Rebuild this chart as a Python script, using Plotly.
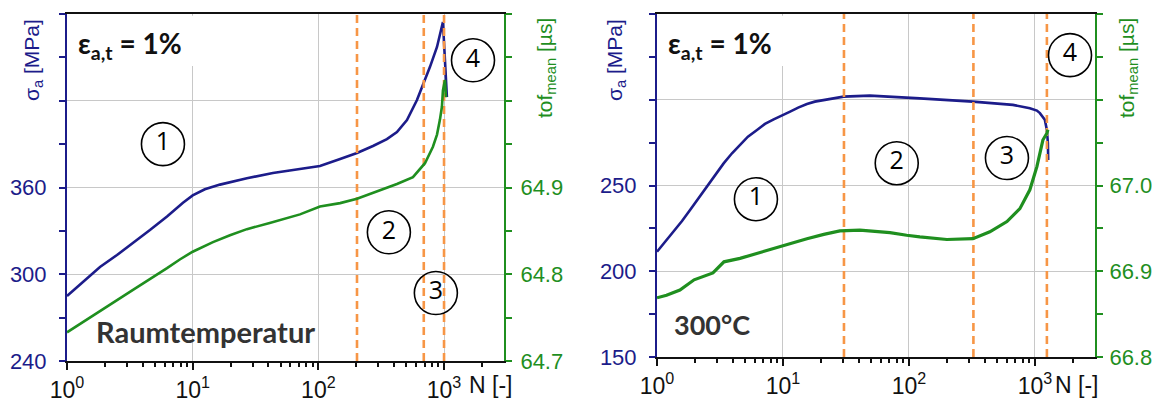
import math
import plotly.graph_objects as go

# browser page has an 8 px body margin -> figure is drawn 8 px in from the top-left corner
VIEW_W, VIEW_H, OFF = 1163, 407, 8
W, H = VIEW_W - OFF, VIEW_H - OFF

# ---------------- data ----------------
# Room temperature panel
N_rt_sigma = [1, 1.34, 1.83, 2.5, 3.35, 4.57, 6.25, 8.37, 10, 12.5, 16.5, 27, 43.5, 71.4, 103, 149, 203, 272, 351,
              422, 507, 609, 679, 772, 879, 962, 980, 1054]
sigma_rt = [285, 294.6, 305, 313.3, 321.6, 330.6, 340, 349.5, 354.5, 358.8, 362, 366.4, 370, 372.8, 374.9, 379.7,
            383.9, 388.7, 393.5, 398.4, 406.7, 420.5, 430.9, 443.3, 457.2, 470.3, 474.5, 422.6]

N_rt_tof = [1, 1.83, 3.35, 6.25, 7.9, 10, 14.5, 19.8, 27, 41, 71.4, 103, 149, 203, 309, 422, 566, 705, 816, 879,
            927, 962, 980, 1017, 1036]
tof_rt = [64.733, 64.758, 64.782, 64.807, 64.817, 64.826, 64.837, 64.845, 64.852, 64.859, 64.869, 64.878, 64.882,
          64.887, 64.897, 64.904, 64.912, 64.928, 64.947, 64.961, 64.978, 64.993, 65.012, 65.024, 65.004]

rt_stage_bounds = [203, 690, 1000]
rt_circle_N = [5.8, 364, 861, 1700]
rt_circle_sigma = [390, 329, 287, 448]

# 300 °C panel
N_ht_sigma = [1, 1.164, 1.357, 1.58, 1.83, 2.13, 2.49, 2.89, 3.38, 3.94, 4.56, 5.27, 6.22, 7.2, 8.44, 9.82, 11.4,
              13.2, 15.5, 17.9, 21.0, 30.3, 49, 96, 122, 322, 669, 912, 1037, 1096, 1157, 1199, 1245, 1268, 1275]
sigma_ht = [211.4, 217.2, 223.1, 229.3, 235.7, 242.5, 249.3, 256.1, 262.9, 268.8, 273.6, 278.5, 282.4, 285.9,
            288.6, 291.1, 293.1, 295.4, 297.5, 298.9, 299.8, 301.8, 302.4, 301.4, 300.8, 298.9, 297.0, 295.1,
            293.7, 292.2, 290.2, 288.3, 282.4, 274.8, 264.9]

N_ht_tof = [1, 1.19, 1.52, 1.97, 2.78, 3.4, 4.56, 6.22, 8.48, 11.4, 15.5, 21.1, 28.3, 40.8, 70.7, 96, 122, 200,
            322, 439, 600, 760, 912, 1037, 1157, 1245, 1268]
tof_ht = [66.869, 66.872, 66.878, 66.890, 66.898, 66.911, 66.915, 66.921, 66.927, 66.933, 66.938, 66.943, 66.947,
          66.948, 66.945, 66.942, 66.940, 66.937, 66.938, 66.946, 66.958, 66.973, 66.995, 67.022, 67.053, 67.061,
          67.065]

ht_stage_bounds = [30.5, 325, 1245]
ht_circle_N = [6.1, 80, 600, 1900]
ht_circle_sigma = [242, 263, 266, 326]

circle_labels = ["1", "2", "3", "4"]

x_ticks = [1, 10, 100, 1000]
x_ticktext = ["10<sup>0</sup>", "10<sup>1</sup>", "10<sup>2</sup>", "10<sup>3</sup>"]
x_minor = [m * d for d in (1, 10, 100, 1000) for m in range(2, 10) if m * d <= 2000]
x_max = 3000

rt_sigma_ticks = [240, 300, 360, 420, 480]
rt_sigma_text = ["240", "300", "360", "", ""]
rt_tof_ticks = [64.7, 64.8, 64.9, 65.0, 65.1]
rt_tof_text = ["64.7", "64.8", "64.9", "", ""]
ht_sigma_ticks = [150, 200, 250, 300, 350]
ht_sigma_text = ["150", "200", "250", "", ""]
ht_tof_ticks = [66.8, 66.9, 67.0, 67.1, 67.2]
ht_tof_text = ["66.8", "66.9", "67.0", "", ""]

# ---------------- style ----------------
NAVY = "#1c1c8a"
GREEN = "#1f8f1f"
ORANGE = "#F79646"
GRID = "#c8c8c8"
TICKFONT = "Liberation Sans, Arial, sans-serif"
BOLDFONT = "Lato, Open Sans, sans-serif"

def px_x(p):
    return (p - OFF) / W

def px_y(p):
    return 1 - (p - OFF) / H

fig = go.Figure()

# curves
fig.add_trace(go.Scatter(x=N_rt_sigma, y=sigma_rt, mode="lines", line=dict(color=NAVY, width=2.6),
                         xaxis="x", yaxis="y", showlegend=False))
fig.add_trace(go.Scatter(x=N_rt_tof, y=tof_rt, mode="lines", line=dict(color=GREEN, width=2.6),
                         xaxis="x", yaxis="y2", showlegend=False))
fig.add_trace(go.Scatter(x=N_ht_sigma, y=sigma_ht, mode="lines", line=dict(color=NAVY, width=2.6),
                         xaxis="x2", yaxis="y3", showlegend=False))
fig.add_trace(go.Scatter(x=N_ht_tof, y=tof_ht, mode="lines", line=dict(color=GREEN, width=3.2),
                         xaxis="x2", yaxis="y4", showlegend=False))

# stage boundaries
for v in rt_stage_bounds:
    fig.add_trace(go.Scatter(x=[v, v], y=[rt_sigma_ticks[0], rt_sigma_ticks[-1]], mode="lines",
                             line=dict(color=ORANGE, width=2.6, dash="8px,5px"),
                             xaxis="x", yaxis="y", showlegend=False))
for v in ht_stage_bounds:
    fig.add_trace(go.Scatter(x=[v, v], y=[ht_sigma_ticks[0], ht_sigma_ticks[-1]], mode="lines",
                             line=dict(color=ORANGE, width=2.6, dash="8px,5px"),
                             xaxis="x2", yaxis="y3", showlegend=False))

# circled stage numbers
circ_style = dict(mode="markers+text", marker=dict(symbol="circle-open", size=43, color="black",
                                                    line=dict(width=1.6, color="black")),
                  textposition="middle center", textfont=dict(size=25, color="black", family="Open Sans, sans-serif"),
                  showlegend=False, cliponaxis=False)
fig.add_trace(go.Scatter(x=rt_circle_N, y=rt_circle_sigma, text=circle_labels, xaxis="x", yaxis="y", **circ_style))
fig.add_trace(go.Scatter(x=ht_circle_N, y=ht_circle_sigma, text=circle_labels, xaxis="x2", yaxis="y3", **circ_style))

# ---------------- axes ----------------
yb_l, yb_r, yt = 361, 357, 14
xdom_l = [px_x(67), px_x(504)]
xdom_r = [px_x(657), px_x(1095)]
ydom_l = [px_y(yb_l), px_y(yt)]
ydom_r = [px_y(yb_r), px_y(yt)]

xcommon = dict(type="log", range=[0, math.log10(x_max)], tickvals=x_ticks, ticktext=x_ticktext,
               showgrid=True, gridcolor=GRID, gridwidth=1, showline=True, linecolor="#111111", linewidth=2,
               mirror=True, ticks="outside", ticklen=7, tickwidth=1.5, tickcolor="#111111",
               tickfont=dict(family=TICKFONT, size=23, color="#111111"),
               minor=dict(tickvals=x_minor, ticks="outside", ticklen=4, tickwidth=1.5, tickcolor="#111111", showgrid=False),
               zeroline=False, fixedrange=True, automargin=False)

def ycommon(rng, tv, tt, color, side, minor_vals, grid, standoff):
    return dict(range=rng, tickvals=tv, ticktext=tt, showgrid=grid, gridcolor=GRID, gridwidth=1,
                showline=True, linecolor=color, linewidth=2, ticks="outside", ticklen=6, tickwidth=1.5,
                tickcolor=color, tickfont=dict(family=TICKFONT, size=22, color=color), side=side,
                minor=dict(tickvals=minor_vals, ticks="outside", ticklen=6, tickwidth=1.5, tickcolor=color, showgrid=False),
                zeroline=False, fixedrange=True, ticklabelstandoff=standoff, automargin=False)

fig.update_layout(
    xaxis=dict(domain=xdom_l, anchor="y", **xcommon),
    xaxis2=dict(domain=xdom_r, anchor="y3", **xcommon),
    yaxis=dict(domain=ydom_l, anchor="x",
               **ycommon([240, 480], rt_sigma_ticks, rt_sigma_text, NAVY, "left", [270, 330, 390, 450], True, 8)),
    yaxis2=dict(overlaying="y", anchor="x",
                **ycommon([64.7, 65.1], rt_tof_ticks, rt_tof_text, GREEN, "right",
                          [64.75, 64.85, 64.95, 65.05], False, 4)),
    yaxis3=dict(domain=ydom_r, anchor="x2",
                **ycommon([150, 350], ht_sigma_ticks, ht_sigma_text, NAVY, "left", [175, 225, 275, 325], True, 8)),
    yaxis4=dict(overlaying="y3", anchor="x2",
                **ycommon([66.8, 67.2], ht_tof_ticks, ht_tof_text, GREEN, "right",
                          [66.85, 66.95, 67.05, 67.15], False, 2)),
    width=W, height=H, margin=dict(l=0, r=0, t=0, b=0, autoexpand=False),
    paper_bgcolor="white", plot_bgcolor="white", showlegend=False,
)

# white boxes behind strain amplitude labels
for xr, yr, y0 in (("x domain", "y domain", (yb_l - 66) / (yb_l - yt)), ("x2 domain", "y3 domain", (yb_r - 66) / (yb_r - yt))):
    fig.add_shape(type="rect", xref=xr, yref=yr, x0=0.005, x1=0.315, y0=y0, y1=0.995,
                  fillcolor="white", line=dict(width=0), layer="above")

# ---------------- annotations ----------------
ann = []
def add_text(x, y, text, size, color, family, angle=0, xanchor="center"):
    ann.append(dict(x=px_x(x), y=px_y(y), xref="paper", yref="paper", text=text, showarrow=False,
                    font=dict(size=size, color=color, family=family), textangle=angle,
                    xanchor=xanchor, yanchor="middle"))

add_text(33, 60, "σ<sub>a</sub> [MPa]", 21, NAVY, TICKFONT, -90)
add_text(546, 68, "tof<sub>mean</sub> [µs]", 21, GREEN, TICKFONT, -90)
add_text(616, 60, "σ<sub>a</sub> [MPa]", 21, NAVY, TICKFONT, -90)
add_text(1128, 68, "tof<sub>mean</sub> [µs]", 21, GREEN, TICKFONT, -90)
add_text(130, 45, "<b>ε<sub>a,t</sub> = 1%</b>", 28, "#111111", BOLDFONT)
add_text(720, 45, "<b>ε<sub>a,t</sub> = 1%</b>", 28, "#111111", BOLDFONT)
add_text(205, 331, "<b>Raumtemperatur</b>", 29, "#333333", BOLDFONT)
add_text(712, 324, "<b>300°C</b>", 27, "#333333", BOLDFONT)
add_text(467, 385, "N [-]", 23, "#111111", TICKFONT, xanchor="left")
add_text(1053, 385, "N [-]", 23, "#111111", TICKFONT, xanchor="left")
fig.update_layout(annotations=ann)

fig.write_html("out.html")
